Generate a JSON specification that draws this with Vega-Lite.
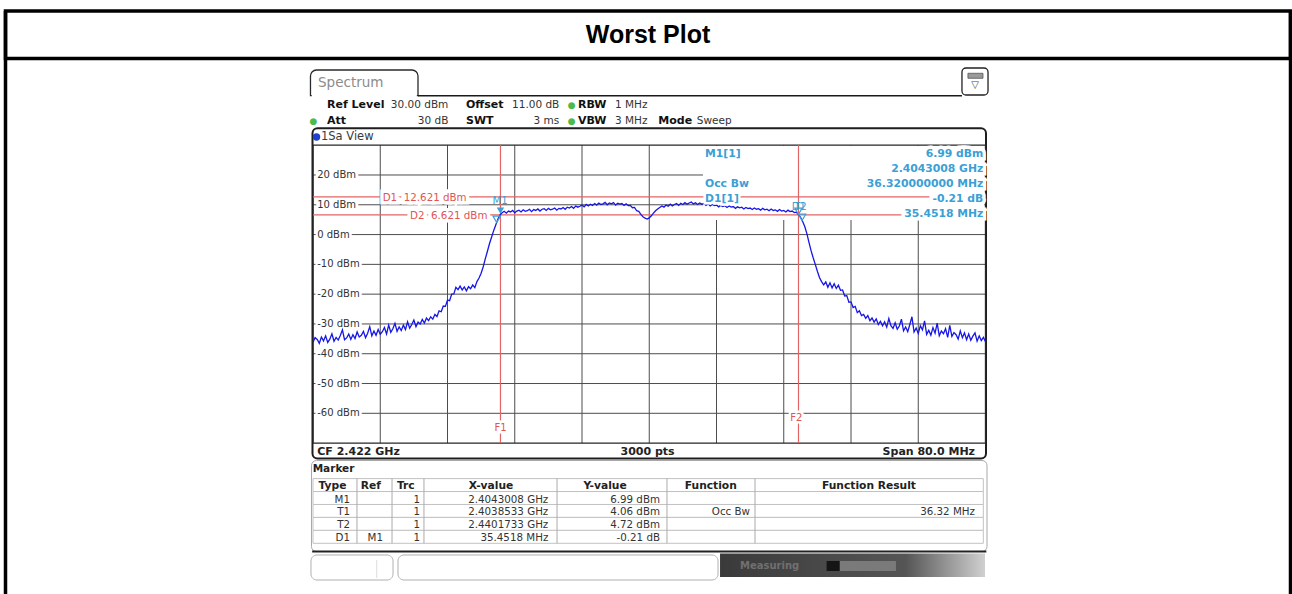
{
"$schema": "https://vega.github.io/schema/vega-lite/v6.json",
"width": 1285, "height": 583,
"autosize": {"type": "none"},
"padding": {"left": 5.5, "top": 11, "right": 1.5, "bottom": 0},
"background": "white",
"config": {"view": {"stroke": null}, "axis": {"disable": true}, "legend": {"disable": true}},
"datasets": {
"gridLevels": [{"level":20,"label":"20 dBm"},{"level":10,"label":"10 dBm"},{"level":0,"label":"0 dBm"},{"level":-10,"label":"-10 dBm"},{"level":-20,"label":"-20 dBm"},{"level":-30,"label":"-30 dBm"},{"level":-40,"label":"-40 dBm"},{"level":-50,"label":"-50 dBm"},{"level":-60,"label":"-60 dBm"}],
"gridFreqs": [{"freq":2390},{"freq":2398},{"freq":2406},{"freq":2414},{"freq":2422},{"freq":2430},{"freq":2438},{"freq":2446},{"freq":2454}],
"displayLines": [{"name":"D1","level":12.621},{"name":"D2","level":6.621}],
"freqLines": [{"name":"F1","freq":2404.3008},{"name":"F2","freq":2439.7526}],
"markerPoints": [{"id":"M1","freq":2404.3008,"level":6.99},{"id":"T1","freq":2403.8533,"level":4.06},{"id":"T2","freq":2440.1733,"level":4.72},{"id":"D1","freq":2439.7526,"level":6.78}],
"settings": [
{"row":"line 1","group":"level","name":"Ref Level","value":"30.00 dBm","indicator":false},
{"row":"line 2","group":"level","name":"Att","value":"30 dB","indicator":true},
{"row":"line 1","group":"sweep","name":"Offset","value":"11.00 dB","indicator":false},
{"row":"line 2","group":"sweep","name":"SWT","value":"3 ms","indicator":false},
{"row":"line 1","group":"bw","name":"RBW","value":"1 MHz","indicator":true},
{"row":"line 2","group":"bw","name":"VBW","value":"3 MHz","indicator":true},
{"row":"line 2","group":"mode","name":"Mode","value":"Sweep","indicator":false}],
"readout": [
{"line":"M1 level","left":"M1[1]","right":"6.99 dBm"},
{"line":"M1 frequency","left":"","right":"2.4043008 GHz"},
{"line":"Occ Bw","left":"Occ Bw","right":"36.320000000 MHz"},
{"line":"D1 level","left":"D1[1]","right":"-0.21 dB"},
{"line":"D1 frequency","left":"","right":"35.4518 MHz"}],
"table": [
{"Type":"Type","Ref":"Ref","Trc":"Trc","Xvalue":"X-value","Yvalue":"Y-value","Function":"Function","Result":"Function Result"},
{"Type":"M1","Ref":"","Trc":"1","Xvalue":"2.4043008 GHz","Yvalue":"6.99 dBm","Function":"","Result":""},
{"Type":"T1","Ref":"","Trc":"1","Xvalue":"2.4038533 GHz","Yvalue":"4.06 dBm","Function":"Occ Bw","Result":"36.32 MHz"},
{"Type":"T2","Ref":"","Trc":"1","Xvalue":"2.4401733 GHz","Yvalue":"4.72 dBm","Function":"","Result":""},
{"Type":"D1","Ref":"M1","Trc":"1","Xvalue":"35.4518 MHz","Yvalue":"-0.21 dB","Function":"","Result":""}],
"trace": [
{"f":2382,"dBm":-36.1},{"f":2382.25,"dBm":-34.6},{"f":2382.5,"dBm":-35.2},{"f":2382.75,"dBm":-36.5},{"f":2383,"dBm":-34.4},{"f":2383.25,"dBm":-35.7},{"f":2383.5,"dBm":-34.0},{"f":2383.75,"dBm":-36.2},{"f":2384,"dBm":-35.1},{"f":2384.25,"dBm":-33.3},{"f":2384.5,"dBm":-35.8},{"f":2384.75,"dBm":-34.5},{"f":2385,"dBm":-35.4},{"f":2385.25,"dBm":-33.9},{"f":2385.5,"dBm":-32.0},{"f":2385.75,"dBm":-35.3},{"f":2386,"dBm":-34.7},{"f":2386.25,"dBm":-33.4},{"f":2386.5,"dBm":-35.2},{"f":2386.75,"dBm":-33.6},{"f":2387,"dBm":-34.9},{"f":2387.25,"dBm":-32.7},{"f":2387.5,"dBm":-34.4},{"f":2387.75,"dBm":-33.8},{"f":2388,"dBm":-32.5},{"f":2388.25,"dBm":-34.6},{"f":2388.5,"dBm":-33.1},{"f":2388.75,"dBm":-30.9},{"f":2389,"dBm":-34.0},{"f":2389.25,"dBm":-32.4},{"f":2389.5,"dBm":-33.8},{"f":2389.75,"dBm":-31.9},
{"f":2390,"dBm":-33.5},{"f":2390.25,"dBm":-32.6},{"f":2390.5,"dBm":-31.2},{"f":2390.75,"dBm":-33.4},{"f":2391,"dBm":-30.4},{"f":2391.25,"dBm":-32.8},{"f":2391.5,"dBm":-31.6},{"f":2391.75,"dBm":-29.8},{"f":2392,"dBm":-32.5},{"f":2392.25,"dBm":-31.0},{"f":2392.5,"dBm":-32.2},{"f":2392.75,"dBm":-30.4},{"f":2393,"dBm":-31.9},{"f":2393.25,"dBm":-29.3},{"f":2393.5,"dBm":-31.4},{"f":2393.75,"dBm":-30.2},{"f":2394,"dBm":-28.7},{"f":2394.25,"dBm":-30.9},{"f":2394.5,"dBm":-29.4},{"f":2394.75,"dBm":-30.0},{"f":2395,"dBm":-28.5},{"f":2395.25,"dBm":-29.7},{"f":2395.5,"dBm":-28.0},{"f":2395.75,"dBm":-28.9},{"f":2396,"dBm":-27.6},{"f":2396.25,"dBm":-28.4},{"f":2396.5,"dBm":-26.8},{"f":2396.75,"dBm":-27.5},{"f":2397,"dBm":-25.6},{"f":2397.25,"dBm":-25.9},{"f":2397.5,"dBm":-24.0},{"f":2397.75,"dBm":-24.1},{"f":2398,"dBm":-22.0},{"f":2398.25,"dBm":-22.2},{"f":2398.5,"dBm":-20.0},{"f":2398.75,"dBm":-19.9},{"f":2399,"dBm":-17.7},{"f":2399.25,"dBm":-18.5},{"f":2399.5,"dBm":-17.3},{"f":2399.75,"dBm":-18.6},
{"f":2400,"dBm":-17.6},{"f":2400.25,"dBm":-18.9},{"f":2400.5,"dBm":-17.5},{"f":2400.75,"dBm":-18.2},{"f":2401,"dBm":-16.9},{"f":2401.25,"dBm":-17.8},{"f":2401.5,"dBm":-15.8},{"f":2401.75,"dBm":-14.6},{"f":2402,"dBm":-13.0},{"f":2402.25,"dBm":-10.8},{"f":2402.5,"dBm":-8.1},{"f":2402.75,"dBm":-5.6},{"f":2403,"dBm":-3.0},{"f":2403.25,"dBm":-0.8},{"f":2403.5,"dBm":1.4},{"f":2403.75,"dBm":3.3},{"f":2404,"dBm":5.2},{"f":2404.25,"dBm":6.6},{"f":2404.5,"dBm":7.3},{"f":2404.75,"dBm":7.8},{"f":2405,"dBm":7.2},{"f":2405.25,"dBm":7.9},{"f":2405.5,"dBm":7.6},{"f":2405.75,"dBm":8.1},{"f":2406,"dBm":7.3},{"f":2406.25,"dBm":7.9},{"f":2406.5,"dBm":8.2},{"f":2406.75,"dBm":7.6},{"f":2407,"dBm":8.3},{"f":2407.25,"dBm":7.8},{"f":2407.5,"dBm":8.0},{"f":2407.75,"dBm":8.5},{"f":2408,"dBm":7.7},{"f":2408.25,"dBm":8.4},{"f":2408.5,"dBm":8.1},{"f":2408.75,"dBm":8.6},{"f":2409,"dBm":7.9},{"f":2409.25,"dBm":8.5},{"f":2409.5,"dBm":8.7},{"f":2409.75,"dBm":8.1},
{"f":2410,"dBm":8.8},{"f":2410.25,"dBm":8.3},{"f":2410.5,"dBm":8.5},{"f":2410.75,"dBm":8.9},{"f":2411,"dBm":8.2},{"f":2411.25,"dBm":8.8},{"f":2411.5,"dBm":8.6},{"f":2411.75,"dBm":9.1},{"f":2412,"dBm":8.5},{"f":2412.25,"dBm":9.2},{"f":2412.5,"dBm":8.9},{"f":2412.75,"dBm":9.4},{"f":2413,"dBm":8.8},{"f":2413.25,"dBm":9.6},{"f":2413.5,"dBm":9.2},{"f":2413.75,"dBm":9.5},{"f":2414,"dBm":9.9},{"f":2414.25,"dBm":9.3},{"f":2414.5,"dBm":10.1},{"f":2414.75,"dBm":9.6},{"f":2415,"dBm":10.2},{"f":2415.25,"dBm":9.8},{"f":2415.5,"dBm":10.4},{"f":2415.75,"dBm":9.9},{"f":2416,"dBm":10.6},{"f":2416.25,"dBm":10.1},{"f":2416.5,"dBm":10.3},{"f":2416.75,"dBm":10.8},{"f":2417,"dBm":10.0},{"f":2417.25,"dBm":10.6},{"f":2417.5,"dBm":10.3},{"f":2417.75,"dBm":10.7},{"f":2418,"dBm":9.9},{"f":2418.25,"dBm":10.5},{"f":2418.5,"dBm":10.2},{"f":2418.75,"dBm":10.4},{"f":2419,"dBm":9.8},{"f":2419.25,"dBm":10.3},{"f":2419.5,"dBm":9.7},{"f":2419.75,"dBm":9.8},
{"f":2420,"dBm":9.0},{"f":2420.25,"dBm":9.1},{"f":2420.5,"dBm":8.0},{"f":2420.75,"dBm":7.8},{"f":2421,"dBm":6.8},{"f":2421.25,"dBm":6.0},{"f":2421.5,"dBm":5.5},{"f":2421.75,"dBm":5.2},{"f":2422,"dBm":5.6},{"f":2422.25,"dBm":6.3},{"f":2422.5,"dBm":7.2},{"f":2422.75,"dBm":8.0},{"f":2423,"dBm":8.6},{"f":2423.25,"dBm":9.1},{"f":2423.5,"dBm":9.6},{"f":2423.75,"dBm":9.2},{"f":2424,"dBm":9.9},{"f":2424.25,"dBm":9.5},{"f":2424.5,"dBm":10.2},{"f":2424.75,"dBm":9.6},{"f":2425,"dBm":10.1},{"f":2425.25,"dBm":10.4},{"f":2425.5,"dBm":9.8},{"f":2425.75,"dBm":10.5},{"f":2426,"dBm":10.1},{"f":2426.25,"dBm":10.7},{"f":2426.5,"dBm":10.2},{"f":2426.75,"dBm":10.6},{"f":2427,"dBm":10.9},{"f":2427.25,"dBm":10.3},{"f":2427.5,"dBm":10.7},{"f":2427.75,"dBm":10.1},{"f":2428,"dBm":10.6},{"f":2428.25,"dBm":10.2},{"f":2428.5,"dBm":10.4},{"f":2428.75,"dBm":9.8},{"f":2429,"dBm":10.3},{"f":2429.25,"dBm":9.6},{"f":2429.5,"dBm":10.1},{"f":2429.75,"dBm":9.7},
{"f":2430,"dBm":9.9},{"f":2430.25,"dBm":9.3},{"f":2430.5,"dBm":9.8},{"f":2430.75,"dBm":9.4},{"f":2431,"dBm":9.7},{"f":2431.25,"dBm":9.1},{"f":2431.5,"dBm":9.6},{"f":2431.75,"dBm":9.2},{"f":2432,"dBm":9.4},{"f":2432.25,"dBm":8.8},{"f":2432.5,"dBm":9.3},{"f":2432.75,"dBm":9.0},{"f":2433,"dBm":9.2},{"f":2433.25,"dBm":8.6},{"f":2433.5,"dBm":9.1},{"f":2433.75,"dBm":8.7},{"f":2434,"dBm":8.9},{"f":2434.25,"dBm":8.4},{"f":2434.5,"dBm":8.9},{"f":2434.75,"dBm":8.5},{"f":2435,"dBm":8.7},{"f":2435.25,"dBm":8.2},{"f":2435.5,"dBm":8.8},{"f":2435.75,"dBm":8.3},{"f":2436,"dBm":8.5},{"f":2436.25,"dBm":8.0},{"f":2436.5,"dBm":8.6},{"f":2436.75,"dBm":8.1},{"f":2437,"dBm":8.3},{"f":2437.25,"dBm":7.8},{"f":2437.5,"dBm":8.4},{"f":2437.75,"dBm":7.9},{"f":2438,"dBm":8.1},{"f":2438.25,"dBm":7.6},{"f":2438.5,"dBm":8.2},{"f":2438.75,"dBm":7.7},{"f":2439,"dBm":7.9},{"f":2439.25,"dBm":7.4},{"f":2439.5,"dBm":7.5},{"f":2439.75,"dBm":6.7},
{"f":2440,"dBm":5.8},{"f":2440.25,"dBm":4.4},{"f":2440.5,"dBm":2.7},{"f":2440.75,"dBm":0.3},{"f":2441,"dBm":-2.6},{"f":2441.25,"dBm":-5.4},{"f":2441.5,"dBm":-7.8},{"f":2441.75,"dBm":-10.0},{"f":2442,"dBm":-12.3},{"f":2442.25,"dBm":-14.4},{"f":2442.5,"dBm":-15.8},{"f":2442.75,"dBm":-16.9},{"f":2443,"dBm":-15.9},{"f":2443.25,"dBm":-17.7},{"f":2443.5,"dBm":-16.2},{"f":2443.75,"dBm":-17.9},{"f":2444,"dBm":-16.5},{"f":2444.25,"dBm":-18.1},{"f":2444.5,"dBm":-17.0},{"f":2444.75,"dBm":-18.7},{"f":2445,"dBm":-18.6},{"f":2445.25,"dBm":-20.6},{"f":2445.5,"dBm":-20.5},{"f":2445.75,"dBm":-22.7},{"f":2446,"dBm":-22.6},{"f":2446.25,"dBm":-24.5},{"f":2446.5,"dBm":-24.1},{"f":2446.75,"dBm":-26.2},{"f":2447,"dBm":-25.6},{"f":2447.25,"dBm":-27.2},{"f":2447.5,"dBm":-26.8},{"f":2447.75,"dBm":-28.1},{"f":2448,"dBm":-27.2},{"f":2448.25,"dBm":-28.9},{"f":2448.5,"dBm":-28.0},{"f":2448.75,"dBm":-29.4},{"f":2449,"dBm":-28.3},{"f":2449.25,"dBm":-30.2},{"f":2449.5,"dBm":-29.1},{"f":2449.75,"dBm":-30.6},
{"f":2450,"dBm":-29.3},{"f":2450.25,"dBm":-31.1},{"f":2450.5,"dBm":-28.2},{"f":2450.75,"dBm":-30.6},{"f":2451,"dBm":-31.5},{"f":2451.25,"dBm":-29.6},{"f":2451.5,"dBm":-31.8},{"f":2451.75,"dBm":-30.7},{"f":2452,"dBm":-28.4},{"f":2452.25,"dBm":-32.3},{"f":2452.5,"dBm":-31.0},{"f":2452.75,"dBm":-32.6},{"f":2453,"dBm":-30.2},{"f":2453.25,"dBm":-27.6},{"f":2453.5,"dBm":-32.7},{"f":2453.75,"dBm":-31.4},{"f":2454,"dBm":-33.2},{"f":2454.25,"dBm":-30.6},{"f":2454.5,"dBm":-32.0},{"f":2454.75,"dBm":-29.0},{"f":2455,"dBm":-33.5},{"f":2455.25,"dBm":-32.1},{"f":2455.5,"dBm":-33.8},{"f":2455.75,"dBm":-31.2},{"f":2456,"dBm":-33.1},{"f":2456.25,"dBm":-29.7},{"f":2456.5,"dBm":-34.0},{"f":2456.75,"dBm":-32.4},{"f":2457,"dBm":-33.3},{"f":2457.25,"dBm":-31.6},{"f":2457.5,"dBm":-34.5},{"f":2457.75,"dBm":-30.5},{"f":2458,"dBm":-34.2},{"f":2458.25,"dBm":-32.9},{"f":2458.5,"dBm":-33.6},{"f":2458.75,"dBm":-35.1},{"f":2459,"dBm":-32.3},{"f":2459.25,"dBm":-34.6},{"f":2459.5,"dBm":-33.0},{"f":2459.75,"dBm":-35.3},
{"f":2460,"dBm":-33.4},{"f":2460.25,"dBm":-35.5},{"f":2460.5,"dBm":-34.1},{"f":2460.75,"dBm":-33.0},{"f":2461,"dBm":-35.8},{"f":2461.25,"dBm":-34.0},{"f":2461.5,"dBm":-35.6},{"f":2461.75,"dBm":-34.5},{"f":2462,"dBm":-36.0}]
},
"resolve": {"scale": {"x": "independent", "y": "independent"}},
"layer": [
{
"data": {"values": [{"cell": "Worst Plot"}]},
"layer": [
{"mark": {"type": "rect", "fill": "white", "stroke": "black", "strokeWidth": 3.5},
 "encoding": {"y": {"field": "cell", "type": "nominal", "scale": {"type": "band", "range": [0, 47.5], "paddingInner": 0, "paddingOuter": 0}}}},
{"mark": {"type": "rule", "color": "black", "strokeWidth": 3.5},
 "encoding": {"x": {"datum": 0, "scale": {"domain": [0, 1], "nice": false, "zero": false}}}},
{"mark": {"type": "rule", "color": "black", "strokeWidth": 3.5},
 "encoding": {"x": {"datum": 1}}},
{"mark": {"type": "text", "font": "Liberation Sans", "fontSize": 25, "fontWeight": "bold", "color": "black", "baseline": "middle"},
 "encoding": {"text": {"field": "cell"}, "y": {"field": "cell", "type": "nominal"}}}
]
},
{
"layer": [
{"data": {"values": [{"part": "1Sa View window"}]},
 "mark": {"type": "rect", "fill": "white", "stroke": "#1e1e1e", "strokeWidth": 2, "cornerRadius": 5},
 "encoding": {
  "x": {"datum": 2381.94, "scale": {"domain": [2382, 2462], "range": [307.5, 980], "nice": false, "zero": false}},
  "x2": {"datum": 2462.06},
  "y": {"datum": 35.673, "scale": {"domain": [-70, 30], "range": [432.1, 134.2], "nice": false, "zero": false}},
  "y2": {"datum": -75.17}}},
{"data": {"name": "gridLevels"}, "mark": {"type": "rule", "color": "#4d4d4d", "strokeWidth": 1},
 "encoding": {"y": {"field": "level", "type": "quantitative"}, "x": {"datum": 2382}, "x2": {"datum": 2462}}},
{"data": {"name": "gridFreqs"}, "mark": {"type": "rule", "color": "#4d4d4d", "strokeWidth": 1},
 "encoding": {"x": {"field": "freq", "type": "quantitative"}, "y": {"datum": -70}, "y2": {"datum": 30}}},
{"data": {"values": [{"part": "marker readout"}]}, "mark": {"type": "rect", "fill": "white"},
 "encoding": {"x": {"datum": 2428.39}, "x2": {"datum": 2461.85}, "y": {"datum": 4.9}, "y2": {"datum": 29.8}}},
{"data": {"name": "gridLevels"}, "mark": {"type": "text", "align": "left", "baseline": "middle", "font": "DejaVu Sans", "fontSize": 10, "fill": "white", "stroke": "white", "strokeWidth": 5},
 "encoding": {"text": {"field": "label"}, "x": {"datum": 2382.55}, "y": {"field": "level", "type": "quantitative"}}},
{"data": {"values": [{"part": "graticule"}]}, "mark": {"type": "rect", "fill": "white", "fillOpacity": 0, "stroke": "#262626", "strokeWidth": 1.3},
 "encoding": {"x": {"datum": 2382}, "x2": {"datum": 2462}, "y": {"datum": -70}, "y2": {"datum": 30}}},
{"data": {"name": "gridLevels"}, "mark": {"type": "text", "align": "left", "baseline": "middle", "font": "DejaVu Sans", "fontSize": 10, "color": "#333333"},
 "encoding": {"text": {"field": "label"}, "x": {"datum": 2382.5}, "y": {"field": "level", "type": "quantitative"}}},
{"data": {"name": "displayLines"}, "mark": {"type": "rule", "color": "#e26464", "strokeWidth": 1.2},
 "encoding": {"y": {"field": "level", "type": "quantitative"}, "x": {"datum": 2382}, "x2": {"datum": 2462}}},
{"data": {"name": "freqLines"}, "mark": {"type": "rule", "color": "#e26464", "strokeWidth": 1.2},
 "encoding": {"x": {"field": "freq", "type": "quantitative"}, "y": {"datum": -70}, "y2": {"datum": 30}}},
{"data": {"name": "trace"}, "mark": {"type": "line", "color": "#1616e8", "strokeWidth": 1.3},
 "encoding": {"x": {"field": "f", "type": "quantitative"}, "y": {"field": "dBm", "type": "quantitative"}}},
{"data": {"values": [{"t": "D1\u00a0 12.621 dBm"}]}, "mark": {"type": "text", "align": "left", "baseline": "middle", "dy": 1, "font": "DejaVu Sans", "fontSize": 10.3, "fill": "white", "stroke": "white", "strokeWidth": 7},
 "encoding": {"text": {"field": "t"}, "x": {"datum": 2390.29}, "y": {"datum": 12.621}}},
{"data": {"values": [{"t": "D1\u00a0 12.621 dBm"}]}, "mark": {"type": "text", "align": "left", "baseline": "middle", "dy": 1, "font": "DejaVu Sans", "fontSize": 10.3, "color": "#e05555"},
 "encoding": {"text": {"field": "t"}, "x": {"datum": 2390.29}, "y": {"datum": 12.621}}},
{"data": {"values": [{"t": "D2\u00a0 6.621 dBm"}]}, "mark": {"type": "text", "align": "left", "baseline": "middle", "dy": 1, "font": "DejaVu Sans", "fontSize": 10.3, "fill": "white", "stroke": "white", "strokeWidth": 7},
 "encoding": {"text": {"field": "t"}, "x": {"datum": 2393.54}, "y": {"datum": 6.621}}},
{"data": {"values": [{"t": "D2\u00a0 6.621 dBm"}]}, "mark": {"type": "text", "align": "left", "baseline": "middle", "dy": 1, "font": "DejaVu Sans", "fontSize": 10.3, "color": "#e05555"},
 "encoding": {"text": {"field": "t"}, "x": {"datum": 2393.54}, "y": {"datum": 6.621}}},
{"data": {"values": [{"t": "F1"}]}, "mark": {"type": "text", "align": "center", "baseline": "middle", "font": "DejaVu Sans", "fontSize": 10, "fill": "white", "stroke": "white", "strokeWidth": 5},
 "encoding": {"text": {"field": "t"}, "x": {"datum": 2404.3}, "y": {"datum": -64.9}}},
{"data": {"values": [{"t": "F1"}]}, "mark": {"type": "text", "align": "center", "baseline": "middle", "font": "DejaVu Sans", "fontSize": 10, "color": "#e05555"},
 "encoding": {"text": {"field": "t"}, "x": {"datum": 2404.3}, "y": {"datum": -64.9}}},
{"data": {"values": [{"t": "F2"}]}, "mark": {"type": "text", "align": "center", "baseline": "middle", "font": "DejaVu Sans", "fontSize": 10, "fill": "white", "stroke": "white", "strokeWidth": 5},
 "encoding": {"text": {"field": "t"}, "x": {"datum": 2439.49}, "y": {"datum": -61.67}}},
{"data": {"values": [{"t": "F2"}]}, "mark": {"type": "text", "align": "center", "baseline": "middle", "font": "DejaVu Sans", "fontSize": 10, "color": "#e05555"},
 "encoding": {"text": {"field": "t"}, "x": {"datum": 2439.49}, "y": {"datum": -61.67}}},
{"data": {"name": "markerPoints"}, "transform": [{"filter": "datum.id === 'M1'"}],
 "mark": {"type": "point", "shape": "M-1,-1.7L1,-1.7L0,0Z", "filled": true, "color": "#3aa0d5", "size": 55, "opacity": 1},
 "encoding": {"x": {"field": "freq", "type": "quantitative"}, "y": {"field": "level", "type": "quantitative"}}},
{"data": {"name": "markerPoints"}, "transform": [{"filter": "datum.id !== 'M1'"}],
 "mark": {"type": "point", "shape": "M-1,-1.7L1,-1.7L0,0Z", "filled": false, "color": "#3aa0d5", "strokeWidth": 1.2, "size": 55, "opacity": 1},
 "encoding": {"x": {"field": "freq", "type": "quantitative"}, "y": {"field": "level", "type": "quantitative"}}},
{"data": {"values": [{"t": "M1"}]}, "mark": {"type": "text", "align": "center", "baseline": "middle", "font": "DejaVu Sans", "fontSize": 10, "color": "#3aa0d5"},
 "encoding": {"text": {"field": "t"}, "x": {"datum": 2404.25}, "y": {"datum": 11.27}}},
{"data": {"values": [{"t": "D1"}]}, "mark": {"type": "text", "align": "left", "baseline": "middle", "font": "DejaVu Sans", "fontSize": 10, "color": "#3aa0d5"},
 "encoding": {"text": {"field": "t"}, "x": {"datum": 2438.95}, "y": {"datum": 9.36}}},
{"data": {"values": [{"t": "T2"}]}, "mark": {"type": "text", "align": "right", "baseline": "middle", "font": "DejaVu Sans", "fontSize": 10, "color": "#3aa0d5"},
 "encoding": {"text": {"field": "t"}, "x": {"datum": 2440.73}, "y": {"datum": 9.36}}},
{"data": {"values": [{"part": "Spectrum tab"}]}, "mark": {"type": "rect", "fill": "white", "stroke": "#2a2a2a", "strokeWidth": 1.3, "cornerRadiusTopLeft": 6, "cornerRadiusTopRight": 6},
 "encoding": {"x": {"datum": 2381.7}, "x2": {"datum": 2394.49}, "y": {"datum": 55.24}, "y2": {"datum": 46.62}}},
{"data": {"values": [{"part": "tab opening"}]}, "mark": {"type": "rule", "color": "white", "strokeWidth": 2.6},
 "encoding": {"x": {"datum": 2381.85}, "x2": {"datum": 2394.35}, "y": {"datum": 46.62}}},
{"data": {"values": [{"part": "tab line"}]}, "mark": {"type": "rule", "color": "#1a1a1a", "strokeWidth": 1.5},
 "encoding": {"x": {"datum": 2394.49}, "x2": {"datum": 2459.2}, "y": {"datum": 46.62}}},
{"data": {"values": [{"part": "menu button"}]}, "mark": {"type": "rect", "fill": "white", "stroke": "#222222", "strokeWidth": 1.3, "cornerRadius": 4},
 "encoding": {"x": {"datum": 2459.2}, "x2": {"datum": 2462.3}, "y": {"datum": 55.92}, "y2": {"datum": 46.85}}},
{"data": {"values": [{"part": "menu icon"}]}, "mark": {"type": "rect", "fill": "#9a9a9a", "stroke": "#555555", "strokeWidth": 0.8},
 "encoding": {"x": {"datum": 2459.91}, "x2": {"datum": 2461.7}, "y": {"datum": 54.14}, "y2": {"datum": 52.46}}},
{"data": {"values": [{"t": "▽"}]}, "mark": {"type": "text", "align": "center", "baseline": "middle", "font": "DejaVu Sans", "fontSize": 10, "color": "#444444"},
 "encoding": {"text": {"field": "t"}, "x": {"datum": 2460.75}, "y": {"datum": 50.2}}},
{"data": {"values": [{"t": "Spectrum"}]}, "mark": {"type": "text", "align": "left", "baseline": "alphabetic", "font": "DejaVu Sans", "fontSize": 13.5, "color": "#8c8c8c"},
 "encoding": {"text": {"field": "t"}, "x": {"datum": 2382.6}, "y": {"datum": 49.4}}},
{"data": {"values": [{"part": "view indicator"}]}, "mark": {"type": "point", "shape": "circle", "filled": true, "color": "#2040d0", "size": 55, "opacity": 1},
 "encoding": {"x": {"datum": 2382.42}, "y": {"datum": 32.75}}},
{"data": {"values": [{"t": "1Sa View"}]}, "mark": {"type": "text", "align": "left", "baseline": "alphabetic", "font": "DejaVu Sans", "fontSize": 11.5, "color": "#3a3a3a"},
 "encoding": {"text": {"field": "t"}, "x": {"datum": 2382.95}, "y": {"datum": 31.75}}},
{"data": {"values": [{"t": "CF 2.422 GHz"}]}, "mark": {"type": "text", "align": "left", "baseline": "alphabetic", "font": "DejaVu Sans", "fontSize": 11, "fontWeight": "bold", "color": "#222222"},
 "encoding": {"text": {"field": "t"}, "x": {"datum": 2382.51}, "y": {"datum": -74.1}}},
{"data": {"values": [{"t": "3000 pts"}]}, "mark": {"type": "text", "align": "center", "baseline": "alphabetic", "font": "DejaVu Sans", "fontSize": 11, "fontWeight": "bold", "color": "#222222"},
 "encoding": {"text": {"field": "t"}, "x": {"datum": 2421.8}, "y": {"datum": -74.1}}},
{"data": {"values": [{"t": "Span 80.0 MHz"}]}, "mark": {"type": "text", "align": "right", "baseline": "alphabetic", "font": "DejaVu Sans", "fontSize": 11, "fontWeight": "bold", "color": "#222222"},
 "encoding": {"text": {"field": "t"}, "x": {"datum": 2460.75}, "y": {"datum": -74.1}}},
{"data": {"values": [{"part": "marker table window"}]}, "mark": {"type": "rect", "fill": "white", "stroke": "#a8a8a8", "strokeWidth": 1, "cornerRadius": 5},
 "encoding": {"x": {"datum": 2381.82}, "x2": {"datum": 2462.18}, "y": {"datum": -75.84}, "y2": {"datum": -106.39}}},
{"data": {"values": [{"part": "marker table edge"}]}, "mark": {"type": "rule", "color": "#222222", "strokeWidth": 2},
 "encoding": {"x": {"datum": 2381.9}, "x2": {"datum": 2462.1}, "y": {"datum": -106.39}}},
{"data": {"values": [{"t": "Marker"}]}, "mark": {"type": "text", "align": "left", "baseline": "middle", "font": "DejaVu Sans", "fontSize": 10.5, "fontWeight": "bold", "color": "#222222"},
 "encoding": {"text": {"field": "t"}, "x": {"datum": 2381.96}, "y": {"datum": -78.69}}},
{"data": {"values": [{"part": "softkey 1"}]}, "mark": {"type": "rect", "fill": "white", "stroke": "#b0b0b0", "strokeWidth": 1, "cornerRadius": 6},
 "encoding": {"x": {"datum": 2381.76}, "x2": {"datum": 2391.52}, "y": {"datum": -107.56}, "y2": {"datum": -115.96}}},
{"data": {"values": [{"part": "softkey divider"}]}, "mark": {"type": "rule", "color": "#dddddd", "strokeWidth": 1},
 "encoding": {"x": {"datum": 2389.58}, "y": {"datum": -109.24}, "y2": {"datum": -115.28}}},
{"data": {"values": [{"part": "softkey 2"}]}, "mark": {"type": "rect", "fill": "white", "stroke": "#b0b0b0", "strokeWidth": 1, "cornerRadius": 6},
 "encoding": {"x": {"datum": 2392.11}, "x2": {"datum": 2430.18}, "y": {"datum": -107.56}, "y2": {"datum": -115.96}}},
{"data": {"values": [{"part": "status bar"}]}, "mark": {"type": "rect", "fill": {"gradient": "linear", "x1": 0, "x2": 1, "y1": 0, "y2": 0, "stops": [{"offset": 0, "color": "#3a3a3a"}, {"offset": 0.7, "color": "#555555"}, {"offset": 1, "color": "#d0d0d0"}]}},
 "encoding": {"x": {"datum": 2430.42}, "x2": {"datum": 2461.94}, "y": {"datum": -107.06}, "y2": {"datum": -114.95}}},
{"data": {"values": [{"t": "Measuring"}]}, "mark": {"type": "text", "align": "left", "baseline": "middle", "font": "DejaVu Sans", "fontSize": 10, "fontWeight": "bold", "color": "#707070"},
 "encoding": {"text": {"field": "t"}, "x": {"datum": 2432.8}, "y": {"datum": -111.25}}},
{"data": {"values": [{"part": "progress"}]}, "mark": {"type": "rect", "fill": "#7a7a7a"},
 "encoding": {"x": {"datum": 2443.07}, "x2": {"datum": 2451.35}, "y": {"datum": -109.57}, "y2": {"datum": -112.93}}},
{"data": {"values": [{"part": "progress done"}]}, "mark": {"type": "rect", "fill": "#151515"},
 "encoding": {"x": {"datum": 2443.07}, "x2": {"datum": 2444.66}, "y": {"datum": -109.57}, "y2": {"datum": -112.93}}}
]
},
{
"data": {"name": "settings"},
"layer": [
{"transform": [{"filter": "datum.group === 'level'"}], "mark": {"type": "text", "align": "left", "baseline": "alphabetic", "font": "DejaVu Sans", "fontSize": 11, "fontWeight": "bold", "color": "#111111"},
 "encoding": {"text": {"field": "name"}, "x": {"datum": 2383.67, "scale": {"domain": [2382, 2462], "range": [307.5, 980], "nice": false, "zero": false}},
  "y": {"field": "row", "type": "nominal", "scale": {"type": "point", "domain": ["line 1", "line 2"], "range": [97.3, 113.3], "padding": 0}}}},
{"transform": [{"filter": "datum.group === 'level'"}], "mark": {"type": "text", "align": "right", "baseline": "alphabetic", "font": "DejaVu Sans", "fontSize": 10.5, "color": "#333333"},
 "encoding": {"text": {"field": "value"}, "x": {"datum": 2398.1}, "y": {"field": "row", "type": "nominal"}}},
{"transform": [{"filter": "datum.group === 'sweep'"}], "mark": {"type": "text", "align": "left", "baseline": "alphabetic", "font": "DejaVu Sans", "fontSize": 11, "fontWeight": "bold", "color": "#111111"},
 "encoding": {"text": {"field": "name"}, "x": {"datum": 2400.2}, "y": {"field": "row", "type": "nominal"}}},
{"transform": [{"filter": "datum.group === 'sweep'"}], "mark": {"type": "text", "align": "right", "baseline": "alphabetic", "font": "DejaVu Sans", "fontSize": 10.5, "color": "#333333"},
 "encoding": {"text": {"field": "value"}, "x": {"datum": 2411.3}, "y": {"field": "row", "type": "nominal"}}},
{"transform": [{"filter": "datum.group === 'bw'"}], "mark": {"type": "text", "align": "left", "baseline": "alphabetic", "font": "DejaVu Sans", "fontSize": 11, "fontWeight": "bold", "color": "#111111"},
 "encoding": {"text": {"field": "name"}, "x": {"datum": 2413.52}, "y": {"field": "row", "type": "nominal"}}},
{"transform": [{"filter": "datum.group === 'bw'"}], "mark": {"type": "text", "align": "left", "baseline": "alphabetic", "font": "DejaVu Sans", "fontSize": 10.5, "color": "#333333"},
 "encoding": {"text": {"field": "value"}, "x": {"datum": 2417.93}, "y": {"field": "row", "type": "nominal"}}},
{"transform": [{"filter": "datum.group === 'mode'"}], "mark": {"type": "text", "align": "left", "baseline": "alphabetic", "font": "DejaVu Sans", "fontSize": 11, "fontWeight": "bold", "color": "#111111"},
 "encoding": {"text": {"field": "name"}, "x": {"datum": 2423.08}, "y": {"field": "row", "type": "nominal"}}},
{"transform": [{"filter": "datum.group === 'mode'"}], "mark": {"type": "text", "align": "left", "baseline": "alphabetic", "font": "DejaVu Sans", "fontSize": 10.5, "color": "#333333"},
 "encoding": {"text": {"field": "value"}, "x": {"datum": 2427.65}, "y": {"field": "row", "type": "nominal"}}},
{"transform": [{"filter": "datum.indicator && datum.group === 'level'"}], "mark": {"type": "text", "text": "●", "align": "center", "baseline": "middle", "dy": -3.4, "font": "DejaVu Sans", "fontSize": 9, "color": "#4cbb4c"},
 "encoding": {"x": {"datum": 2382.06}, "y": {"field": "row", "type": "nominal"}}},
{"transform": [{"filter": "datum.indicator && datum.group === 'bw'"}], "mark": {"type": "text", "text": "●", "align": "center", "baseline": "middle", "dy": -3.4, "font": "DejaVu Sans", "fontSize": 9, "color": "#4cbb4c"},
 "encoding": {"x": {"datum": 2412.78}, "y": {"field": "row", "type": "nominal"}}}
]
},
{
"data": {"name": "readout"},
"layer": [
{"mark": {"type": "text", "align": "right", "baseline": "middle", "font": "DejaVu Sans", "fontSize": 10.8, "fontWeight": "bold", "fill": "white", "stroke": "white", "strokeWidth": 7},
 "encoding": {"text": {"field": "right"}, "x": {"datum": 2461.74, "scale": {"domain": [2382, 2462], "range": [307.5, 980], "nice": false, "zero": false}},
  "y": {"field": "line", "type": "nominal", "scale": {"type": "point", "domain": ["M1 level", "M1 frequency", "Occ Bw", "D1 level", "D1 frequency"], "range": [143.3, 202.5], "padding": 0}}}},
{"mark": {"type": "text", "align": "right", "baseline": "middle", "font": "DejaVu Sans", "fontSize": 10.8, "fontWeight": "bold", "color": "#3aa0d5"},
 "encoding": {"text": {"field": "right"}, "x": {"datum": 2461.74}, "y": {"field": "line", "type": "nominal"}}},
{"mark": {"type": "text", "align": "left", "baseline": "middle", "font": "DejaVu Sans", "fontSize": 10.8, "fontWeight": "bold", "fill": "white", "stroke": "white", "strokeWidth": 5},
 "encoding": {"text": {"field": "left"}, "x": {"datum": 2428.63}, "y": {"field": "line", "type": "nominal"}}},
{"mark": {"type": "text", "align": "left", "baseline": "middle", "font": "DejaVu Sans", "fontSize": 10.8, "fontWeight": "bold", "color": "#3aa0d5"},
 "encoding": {"text": {"field": "left"}, "x": {"datum": 2428.63}, "y": {"field": "line", "type": "nominal"}}}
]
},
{
"data": {"name": "table"},
"layer": [
{"mark": {"type": "rect", "fill": "white", "stroke": "#c2c2c2", "strokeWidth": 1},
 "encoding": {"x": {"datum": 2382, "scale": {"domain": [2382, 2462], "range": [307.5, 980], "nice": false, "zero": false}}, "x2": {"datum": 2461.74},
  "y": {"field": "Type", "type": "nominal", "scale": {"type": "band", "domain": ["Type", "M1", "T1", "T2", "D1"], "range": [467.6, 532.3], "paddingInner": 0, "paddingOuter": 0}}}},
{"mark": {"type": "tick", "color": "#aaaaaa", "thickness": 1, "opacity": 1}, "encoding": {"x": {"datum": 2387.23}, "y": {"field": "Type", "type": "nominal"}, "size": {"value": 12.94}}},
{"mark": {"type": "tick", "color": "#aaaaaa", "thickness": 1, "opacity": 1}, "encoding": {"x": {"datum": 2391.4}, "y": {"field": "Type", "type": "nominal"}, "size": {"value": 12.94}}},
{"mark": {"type": "tick", "color": "#aaaaaa", "thickness": 1, "opacity": 1}, "encoding": {"x": {"datum": 2395.2}, "y": {"field": "Type", "type": "nominal"}, "size": {"value": 12.94}}},
{"mark": {"type": "tick", "color": "#aaaaaa", "thickness": 1, "opacity": 1}, "encoding": {"x": {"datum": 2411.03}, "y": {"field": "Type", "type": "nominal"}, "size": {"value": 12.94}}},
{"mark": {"type": "tick", "color": "#aaaaaa", "thickness": 1, "opacity": 1}, "encoding": {"x": {"datum": 2424.11}, "y": {"field": "Type", "type": "nominal"}, "size": {"value": 12.94}}},
{"mark": {"type": "tick", "color": "#aaaaaa", "thickness": 1, "opacity": 1}, "encoding": {"x": {"datum": 2434.58}, "y": {"field": "Type", "type": "nominal"}, "size": {"value": 12.94}}},
{"transform": [{"filter": "datum.Type === 'Type'"}], "mark": {"type": "text", "align": "center", "baseline": "middle", "dy": 1, "font": "DejaVu Sans", "fontSize": 10.7, "fontWeight": "bold", "color": "#222222"},
 "encoding": {"text": {"field": "Type"}, "x": {"datum": 2384.32}, "y": {"field": "Type", "type": "nominal"}}},
{"transform": [{"filter": "datum.Type === 'Type'"}], "mark": {"type": "text", "align": "center", "baseline": "middle", "dy": 1, "font": "DejaVu Sans", "fontSize": 10.7, "fontWeight": "bold", "color": "#222222"},
 "encoding": {"text": {"field": "Ref"}, "x": {"datum": 2388.88}, "y": {"field": "Type", "type": "nominal"}}},
{"transform": [{"filter": "datum.Type === 'Type'"}], "mark": {"type": "text", "align": "center", "baseline": "middle", "dy": 1, "font": "DejaVu Sans", "fontSize": 10.7, "fontWeight": "bold", "color": "#222222"},
 "encoding": {"text": {"field": "Trc"}, "x": {"datum": 2393.04}, "y": {"field": "Type", "type": "nominal"}}},
{"transform": [{"filter": "datum.Type === 'Type'"}], "mark": {"type": "text", "align": "center", "baseline": "middle", "dy": 1, "font": "DejaVu Sans", "fontSize": 10.7, "fontWeight": "bold", "color": "#222222"},
 "encoding": {"text": {"field": "Xvalue"}, "x": {"datum": 2403.18}, "y": {"field": "Type", "type": "nominal"}}},
{"transform": [{"filter": "datum.Type === 'Type'"}], "mark": {"type": "text", "align": "center", "baseline": "middle", "dy": 1, "font": "DejaVu Sans", "fontSize": 10.7, "fontWeight": "bold", "color": "#222222"},
 "encoding": {"text": {"field": "Yvalue"}, "x": {"datum": 2416.74}, "y": {"field": "Type", "type": "nominal"}}},
{"transform": [{"filter": "datum.Type === 'Type'"}], "mark": {"type": "text", "align": "center", "baseline": "middle", "dy": 1, "font": "DejaVu Sans", "fontSize": 10.7, "fontWeight": "bold", "color": "#222222"},
 "encoding": {"text": {"field": "Function"}, "x": {"datum": 2429.32}, "y": {"field": "Type", "type": "nominal"}}},
{"transform": [{"filter": "datum.Type === 'Type'"}], "mark": {"type": "text", "align": "center", "baseline": "middle", "dy": 1, "font": "DejaVu Sans", "fontSize": 10.7, "fontWeight": "bold", "color": "#222222"},
 "encoding": {"text": {"field": "Result"}, "x": {"datum": 2448.14}, "y": {"field": "Type", "type": "nominal"}}},
{"transform": [{"filter": "datum.Type !== 'Type'"}], "mark": {"type": "text", "align": "right", "baseline": "middle", "dy": 1.5, "font": "DejaVu Sans", "fontSize": 10.3, "color": "#333333"},
 "encoding": {"text": {"field": "Type"}, "x": {"datum": 2386.4}, "y": {"field": "Type", "type": "nominal"}}},
{"transform": [{"filter": "datum.Type !== 'Type'"}], "mark": {"type": "text", "align": "right", "baseline": "middle", "dy": 1.5, "font": "DejaVu Sans", "fontSize": 10.3, "color": "#333333"},
 "encoding": {"text": {"field": "Ref"}, "x": {"datum": 2390.33}, "y": {"field": "Type", "type": "nominal"}}},
{"transform": [{"filter": "datum.Type !== 'Type'"}], "mark": {"type": "text", "align": "right", "baseline": "middle", "dy": 1.5, "font": "DejaVu Sans", "fontSize": 10.3, "color": "#333333"},
 "encoding": {"text": {"field": "Trc"}, "x": {"datum": 2394.73}, "y": {"field": "Type", "type": "nominal"}}},
{"transform": [{"filter": "datum.Type !== 'Type'"}], "mark": {"type": "text", "align": "right", "baseline": "middle", "dy": 1.5, "font": "DejaVu Sans", "fontSize": 10.3, "color": "#333333"},
 "encoding": {"text": {"field": "Xvalue"}, "x": {"datum": 2409.99}, "y": {"field": "Type", "type": "nominal"}}},
{"transform": [{"filter": "datum.Type !== 'Type'"}], "mark": {"type": "text", "align": "right", "baseline": "middle", "dy": 1.5, "font": "DejaVu Sans", "fontSize": 10.3, "color": "#333333"},
 "encoding": {"text": {"field": "Yvalue"}, "x": {"datum": 2423.28}, "y": {"field": "Type", "type": "nominal"}}},
{"transform": [{"filter": "datum.Type !== 'Type'"}], "mark": {"type": "text", "align": "right", "baseline": "middle", "dy": 1.5, "font": "DejaVu Sans", "fontSize": 10.3, "color": "#333333"},
 "encoding": {"text": {"field": "Function"}, "x": {"datum": 2433.99}, "y": {"field": "Type", "type": "nominal"}}},
{"transform": [{"filter": "datum.Type !== 'Type'"}], "mark": {"type": "text", "align": "right", "baseline": "middle", "dy": 1.5, "font": "DejaVu Sans", "fontSize": 10.3, "color": "#333333"},
 "encoding": {"text": {"field": "Result"}, "x": {"datum": 2460.75}, "y": {"field": "Type", "type": "nominal"}}}
]
}
]
}
